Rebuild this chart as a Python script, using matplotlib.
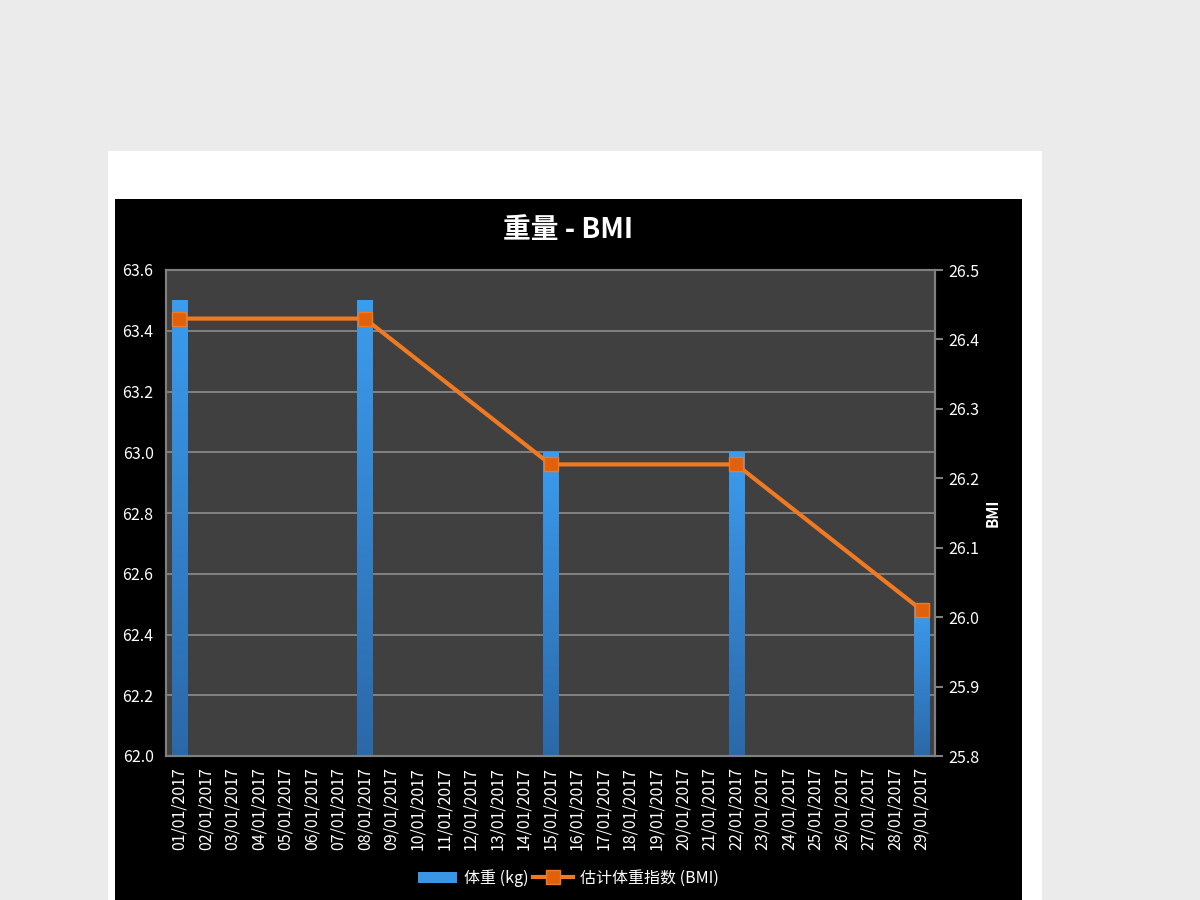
import numpy as np
import matplotlib.pyplot as plt
from matplotlib.patches import Rectangle
from matplotlib.colors import LinearSegmentedColormap

plt.rcParams['font.family'] = ['Noto Sans CJK SC', 'DejaVu Sans']

# data
dates = [f"{d:02d}/01/2017" for d in range(1, 30)]
weight_days = ["01/01/2017", "08/01/2017", "15/01/2017", "22/01/2017", "29/01/2017"]
weight_kg = [63.5, 63.5, 63.0, 63.0, 62.5]
bmi = [26.43, 26.43, 26.22, 26.22, 26.01]

idx = [dates.index(d) for d in weight_days]

fig = plt.figure(figsize=(12, 9), dpi=100)
fig.patch.set_facecolor('#EBEBEB')
# white page and black chart area
fig.patches.append(Rectangle((108 / 1200, 0), (1042 - 108) / 1200, 1 - 151 / 900,
                             transform=fig.transFigure, facecolor='white', edgecolor='none', zorder=-10))
fig.patches.append(Rectangle((115 / 1200, 0), (1022 - 115) / 1200, 1 - 199 / 900,
                             transform=fig.transFigure, facecolor='black', edgecolor='none', zorder=-9))

ax = fig.add_axes([166 / 1200, 1 - 756 / 900, (935 - 166) / 1200, (756 - 270) / 900])
ax.set_facecolor('#404040')
ax2 = ax.twinx()

# bars with vertical gradient
bars = ax.bar(idx, weight_kg, width=0.57, color='#3A96E4', zorder=2, label='体重 (kg)')
cmap = LinearSegmentedColormap.from_list('bg', ['#2B68A8', '#3C9CEE'])
grad = np.linspace(0, 1, 256).reshape(-1, 1)
for b in bars:
    x0, y0 = b.get_x(), 62.0
    x1, y1 = x0 + b.get_width(), b.get_height()
    im = ax.imshow(grad, extent=(x0, x1, y0, y1), origin='lower', cmap=cmap,
                   aspect='auto', zorder=3)
    im.set_clip_path(b)

ax.set_xlim(-0.5, len(dates) - 0.5)
ax.set_ylim(62.0, 63.6)
ax.set_yticks(np.arange(62.0, 63.61, 0.2))
ax.set_yticklabels([f"{v:.1f}" for v in np.arange(62.0, 63.61, 0.2)])
ax.set_xticks(range(len(dates)))
ax.set_xticklabels(dates, rotation=90)
ax.yaxis.grid(True, color='#8C8C8C', linewidth=1.2, zorder=1)
ax.set_axisbelow(True)
ax.tick_params(axis='y', length=0, colors='white', labelsize=11.5, pad=9)
ax.tick_params(axis='x', length=0, colors='white', labelsize=11.5, pad=8)

# BMI line
line, = ax2.plot(idx, bmi, color='#F07A22', linewidth=3, marker='s', markersize=10,
                 markerfacecolor='#E0600C', markeredgecolor='#F07A22', zorder=5,
                 label='估计体重指数 (BMI)')
ax2.set_ylim(25.8, 26.5)
ax2.set_yticks(np.arange(25.8, 26.51, 0.1))
ax2.set_yticklabels([f"{v:.1f}" for v in np.arange(25.8, 26.51, 0.1)])
ax2.tick_params(axis='y', length=6, width=1.5, color='#808080', labelcolor='white', labelsize=11.5)
ax2.set_ylabel('BMI', color='white', fontsize=11, fontweight='bold', labelpad=4)

for a in (ax, ax2):
    for s in a.spines.values():
        s.set_color('#808080')
        s.set_linewidth(1.5)

fig.text(568 / 1200, 1 - 230 / 900, '重量 - BMI', color='white', fontsize=20,
         fontweight='bold', ha='center', va='center')

leg = fig.legend([bars, line], ['体重 (kg)', '估计体重指数 (BMI)'], loc='center',
                 bbox_to_anchor=(568 / 1200, 1 - 878 / 900), ncol=2, frameon=False,
                 fontsize=11.5, labelcolor='white', handlelength=2.5, columnspacing=0.3,
                 handletextpad=0.4)

fig.savefig('out.png', dpi=100, facecolor=fig.get_facecolor())
